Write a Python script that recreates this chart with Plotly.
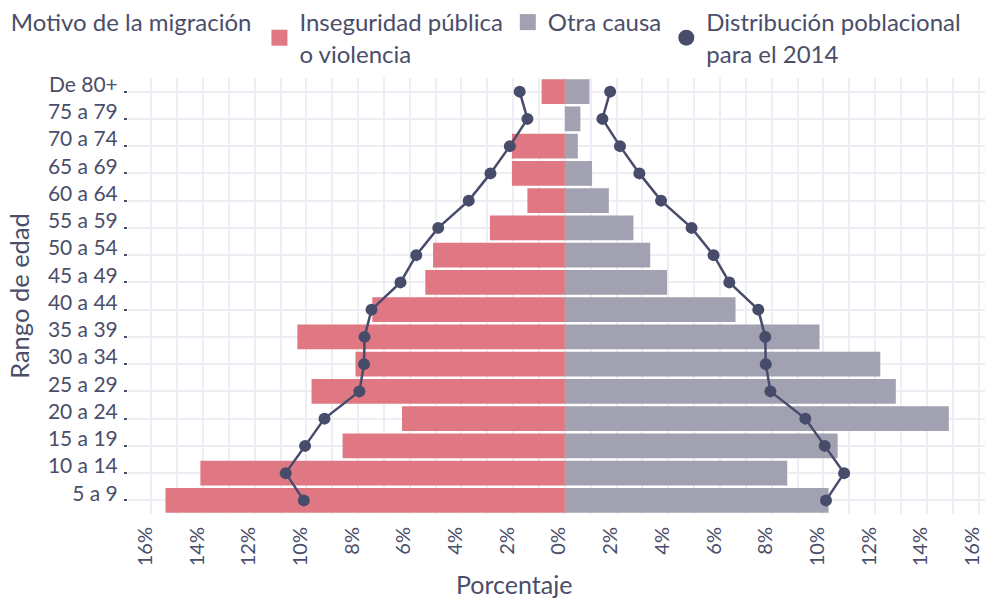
import plotly.graph_objects as go

categorias = ["5 a 9", "10 a 14", "15 a 19", "20 a 24", "25 a 29", "30 a 34", "35 a 39",
              "40 a 44", "45 a 49", "50 a 54", "55 a 59", "60 a 64", "65 a 69", "70 a 74",
              "75 a 79", "De 80+"]
inseguridad = [15.45, 14.1, 8.6, 6.3, 9.8, 8.1, 10.35, 7.45, 5.4, 5.1, 2.9, 1.45, 2.05, 2.05, 0, 0.9]
otra_causa = [10.2, 8.6, 10.55, 14.85, 12.8, 12.2, 9.85, 6.6, 3.95, 3.3, 2.65, 1.7, 1.05, 0.5, 0.6, 0.95]
distribucion = [10.1, 10.8, 10.05, 9.3, 7.95, 7.77, 7.75, 7.48, 6.36, 5.75, 4.9, 3.72, 2.88, 2.13, 1.45, 1.75]
grid_vals = list(range(-16, 17))
tick_vals = list(range(-16, 17, 2))
tick_text = [f"{abs(v)}%" for v in tick_vals]

PINK = "rgb(224,120,131)"
GRAY = "rgb(162,161,177)"
NAVY = "rgb(72,76,107)"
TEXT = "rgb(74,78,106)"
GRID = "rgb(238,237,243)"
FONT = "Lato"
CLEAR = "rgba(0,0,0,0)"

X_RANGE = [-16.9, 16.25]
Y_RANGE = [-0.5, 15.5]
LABEL_SHIFT_X = 0.23   # labels sit slightly left of their grid line
LABEL_SHIFT_Y = 0.26   # labels sit slightly above their grid line

fig = go.Figure()
fig.add_trace(go.Bar(y=categorias, x=[-v for v in inseguridad], orientation="h",
                     marker=dict(color=PINK, line=dict(width=0)), legendgroup="ins",
                     showlegend=False, name="Inseguridad pública<br>o violencia"))
fig.add_trace(go.Bar(y=categorias, x=otra_causa, orientation="h",
                     marker=dict(color=GRAY, line=dict(width=0)), legendgroup="otra",
                     showlegend=False, name="Otra causa"))
fig.add_trace(go.Scatter(y=categorias, x=[-v for v in distribucion], mode="lines+markers",
                         line=dict(color=NAVY, width=2.5), marker=dict(color=NAVY, size=12),
                         legendgroup="dist", showlegend=False,
                         name="Distribución poblacional<br>para el 2014"))
fig.add_trace(go.Scatter(y=categorias, x=distribucion, mode="lines+markers",
                         line=dict(color=NAVY, width=2.5), marker=dict(color=NAVY, size=12),
                         legendgroup="dist", showlegend=False,
                         name="Distribución poblacional<br>para el 2014"))
# legend icons
fig.add_trace(go.Scatter(x=[None], y=[None], mode="markers", legendgroup="ins",
                         marker=dict(symbol="square", size=16, color=PINK),
                         name="Inseguridad pública<br>o violencia"))
fig.add_trace(go.Scatter(x=[None], y=[None], mode="markers", legendgroup="otra",
                         marker=dict(symbol="square", size=16, color=GRAY),
                         name="Otra causa"))
fig.add_trace(go.Scatter(x=[None], y=[None], mode="markers", legendgroup="dist",
                         marker=dict(symbol="circle", size=16, color=NAVY),
                         name="Distribución poblacional<br>para el 2014"))
# invisible carrier for the label axes
fig.add_trace(go.Scatter(y=categorias, x=[0] * len(categorias), xaxis="x2", yaxis="y2",
                         mode="markers", marker=dict(opacity=0), showlegend=False,
                         hoverinfo="skip"))

fig.update_layout(
    width=985, height=600,
    margin=dict(l=128, r=0, t=78, b=86),
    paper_bgcolor="white", plot_bgcolor="white",
    font=dict(family=FONT, color=TEXT, size=21),
    barmode="overlay", bargap=0.09,
    legend=dict(orientation="h", xref="container", yref="container", x=0.009, y=1,
                xanchor="left", yanchor="top",
                title=dict(text="Motivo de la migración", font=dict(size=24, color=TEXT), side="left"),
                font=dict(size=24, color=TEXT), itemwidth=30, tracegroupgap=0,
                traceorder="normal"),
    xaxis=dict(range=X_RANGE, tickmode="array", tickvals=grid_vals, showticklabels=False,
               showgrid=True, gridcolor=GRID, gridwidth=2, zeroline=False,
               ticks="", showline=False, automargin=False),
    yaxis=dict(categoryorder="array", categoryarray=categorias, range=Y_RANGE,
               showgrid=True, gridcolor=GRID, gridwidth=2, zeroline=False,
               ticks="outside", ticklen=3, tickwidth=2, tickcolor=TEXT,
               showticklabels=False, showline=False, automargin=False),
    xaxis2=dict(overlaying="x", anchor="y2", side="bottom",
                range=[X_RANGE[0] + LABEL_SHIFT_X, X_RANGE[1] + LABEL_SHIFT_X],
                tickmode="array", tickvals=tick_vals, ticktext=tick_text, tickangle=-90,
                showgrid=False, zeroline=False, showline=False,
                ticks="outside", ticklen=4, tickcolor=CLEAR,
                tickfont=dict(size=20, color=TEXT), automargin=False),
    yaxis2=dict(overlaying="y", anchor="x2", side="left", categoryorder="array",
                categoryarray=categorias,
                range=[Y_RANGE[0] - LABEL_SHIFT_Y, Y_RANGE[1] - LABEL_SHIFT_Y],
                showgrid=False, zeroline=False, showline=False,
                ticks="outside", ticklen=5, tickcolor=CLEAR,
                tickfont=dict(size=21, color=TEXT), automargin=False,
                title=dict(text="Rango de edad", font=dict(size=25.5, color=TEXT), standoff=10)),
    annotations=[dict(text="Porcentaje", xref="paper", yref="paper",
                      x=(514 - 128) / 857, y=-(584 - 514) / 436,
                      xanchor="center", yanchor="middle", showarrow=False,
                      font=dict(size=25, color=TEXT))],
)

fig.write_html("out.html", post_script="document.body.style.margin='0';",
               config={"displayModeBar": False})
